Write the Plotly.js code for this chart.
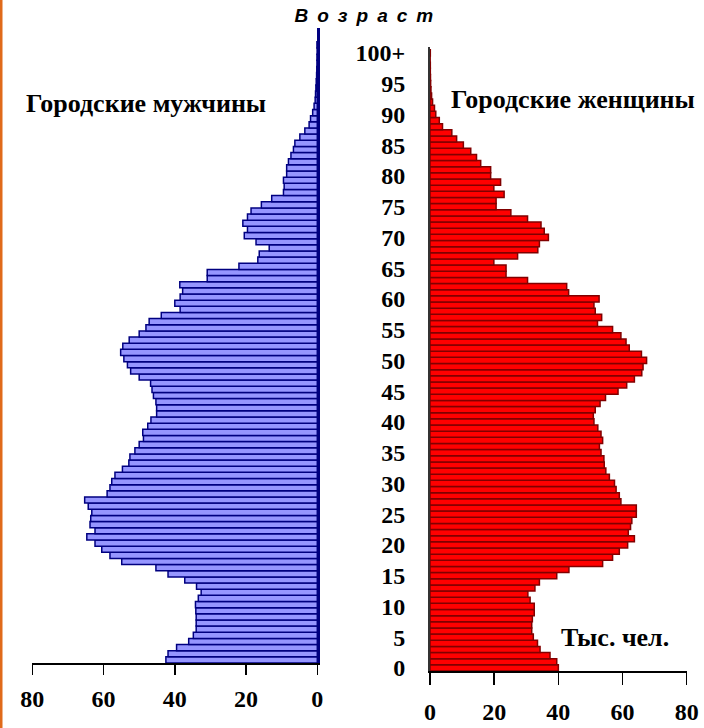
<!DOCTYPE html>
<html>
<head>
<meta charset="utf-8">
<script src="https://cdn.plot.ly/plotly-3.0.1.min.js"></script>
<style>
html, body { margin: 0; padding: 0; background: #ffffff; }
#chart { width: 704px; height: 728px; }
.annotation[data-index="0"] .annotation-text { letter-spacing: 9px; }
</style>
</head>
<body>
<div id="chart"></div>
<script>
// ---- data (thousand persons) ----
const ages = [0,1,2,3,4,5,6,7,8,9,10,11,12,13,14,15,16,17,18,19,20,21,22,23,24,25,26,27,28,29,30,31,32,33,34,35,36,37,38,39,40,41,42,43,44,45,46,47,48,49,50,51,52,53,54,55,56,57,58,59,60,61,62,63,64,65,66,67,68,69,70,71,72,73,74,75,76,77,78,79,80,81,82,83,84,85,86,87,88,89,90,91,92,93,94,95,96,97,98,99,100];

const urbanMen = [42.5,41.9,39.5,36.1,34.8,34.0,34.0,34.0,34.1,34.2,33.4,32.6,33.9,37.2,41.9,45.3,54.9,58.2,60.5,62.4,64.7,62.4,63.8,63.6,63.3,64.3,65.3,59.0,58.2,57.7,56.8,54.7,52.9,52.6,51.2,50.0,48.8,49.0,47.6,46.7,45.1,45.1,45.3,46.0,46.4,46.8,50.0,52.4,53.3,54.3,55.2,54.6,52.8,50.0,48.1,47.2,43.8,38.5,40.0,38.5,37.8,38.6,30.9,30.9,22.0,16.7,16.3,13.5,17.2,20.5,19.6,20.9,19.6,18.6,15.7,12.8,9.5,9.3,9.5,8.6,8.6,8.1,7.4,6.7,6.3,4.9,3.5,2.3,1.9,1.3,0.9,0.6,0.5,0.4,0.3,0.2,0.15,0.1,0.1,0.05,0.1];

const urbanWomen = [40.0,39.5,37.4,34.3,33.5,32.2,31.7,31.7,31.9,32.5,32.5,31.2,30.5,32.7,34.1,39.5,43.3,53.8,56.9,59.0,61.6,63.7,61.8,62.5,62.9,64.3,64.3,59.5,59.0,58.0,57.5,55.9,54.8,54.3,54.2,53.3,52.8,53.8,53.3,52.3,51.1,50.9,51.5,53.0,54.7,58.6,61.3,63.7,66.0,66.4,67.5,65.9,62.1,61.1,59.5,56.9,52.2,53.5,51.5,51.1,52.7,43.2,42.6,30.4,23.7,23.7,19.9,27.3,33.6,34.1,36.9,35.6,34.6,30.4,25.2,20.6,20.6,23.1,19.9,22.0,18.9,18.9,15.8,14.5,12.7,10.4,8.3,6.8,3.9,2.9,1.8,1.4,0.8,0.5,0.3,0.2,0.15,0.1,0.1,0.05,0.1];

const ageTicks = [0,5,10,15,20,25,30,35,40,45,50,55,60,65,70,75,80,85,90,95,100];
const ageTickLabels = ['0','5','10','15','20','25','30','35','40','45','50','55','60','65','70','75','80','85','90','95','100+'];
const valueTicks = [0,20,40,60,80];

const titleText = 'Возраст';
const menLabel = 'Городские мужчины';
const womenLabel = 'Городские женщины';
const unitLabel = 'Тыс. чел.';

// ---- layout helpers (pixel -> paper) ----
const W = 704, H = 728;
const px = v => v / W;
const py = v => 1 - v / H;
const tickSerif = {family: 'Liberation Serif, Times New Roman, serif', size: 24, color: '#000000', weight: 'bold'};
const labelSerif = {family: 'Liberation Serif, Times New Roman, serif', size: 26, color: '#000000', weight: 'bold'};

const traces = [
  {
    type: 'bar', orientation: 'h', x: urbanMen, y: ages, xaxis: 'x', yaxis: 'y',
    marker: {color: '#9696ff', line: {color: '#000080', width: 1.5}},
    hoverinfo: 'x+y', showlegend: false
  },
  {
    type: 'bar', orientation: 'h', x: urbanWomen, y: ages, xaxis: 'x2', yaxis: 'y2',
    marker: {color: '#ff0000', line: {color: '#800000', width: 1.5}},
    hoverinfo: 'x+y', showlegend: false
  }
];

const layout = {
  width: W, height: H,
  margin: {l: 0, r: 0, t: 0, b: 0},
  paper_bgcolor: '#ffffff', plot_bgcolor: 'rgba(0,0,0,0)',
  bargap: 0,
  showlegend: false,
  xaxis: {
    domain: [px(32.3), px(317.3)], anchor: 'y', range: [80, 0],
    tickvals: valueTicks, ticks: 'outside', ticklen: 10, tickwidth: 1.5, tickcolor: '#000',
    showline: true, linecolor: '#000', linewidth: 1.5, showgrid: false, zeroline: false,
    tickfont: tickSerif, ticklabelstandoff: 4
  },
  yaxis: {
    domain: [py(663), py(28)], anchor: 'x', side: 'right', range: [-0.5, 102.75],
    showline: true, linecolor: '#000080', linewidth: 2.5, showgrid: false, zeroline: false,
    ticks: '', showticklabels: false
  },
  xaxis2: {
    domain: [px(430), px(686.7)], anchor: 'y2', range: [0, 80],
    tickvals: valueTicks, ticks: 'outside', ticklen: 12, tickwidth: 1.5, tickcolor: '#000',
    showline: true, linecolor: '#000', linewidth: 1.5, showgrid: false, zeroline: false,
    tickfont: tickSerif, ticklabelstandoff: 7
  },
  yaxis2: {
    domain: [py(671), py(47)], anchor: 'x2', side: 'left', range: [-0.5, 100.96],
    showline: true, linecolor: '#333333', linewidth: 2, showgrid: false, zeroline: false,
    tickvals: ageTicks, ticktext: ageTickLabels, ticks: '',
    tickfont: tickSerif, ticklabelstandoff: 18
  },
  annotations: [
    {text: titleText, xref: 'paper', yref: 'paper', x: px(324), y: py(15), xanchor: 'left', yanchor: 'middle',
     showarrow: false, font: {family: 'Liberation Sans, Arial, sans-serif', size: 19, color: '#000', weight: 'bold', style: 'italic'}},
    {text: menLabel, xref: 'paper', yref: 'paper', x: px(24), y: py(104), xanchor: 'left', yanchor: 'middle',
     showarrow: false, font: labelSerif},
    {text: womenLabel, xref: 'paper', yref: 'paper', x: px(449), y: py(100), xanchor: 'left', yanchor: 'middle',
     showarrow: false, font: labelSerif},
    {text: unitLabel, xref: 'paper', yref: 'paper', x: px(559), y: py(637), xanchor: 'left', yanchor: 'middle',
     showarrow: false, font: labelSerif}
  ],
  shapes: [
    {type: 'line', xref: 'paper', yref: 'paper', x0: px(1), x1: px(1), y0: 0, y1: 1,
     line: {color: '#e06a1a', width: 3}}
  ]
};

Plotly.newPlot('chart', traces, layout, {displayModeBar: false, staticPlot: true});
</script>
</body>
</html>
